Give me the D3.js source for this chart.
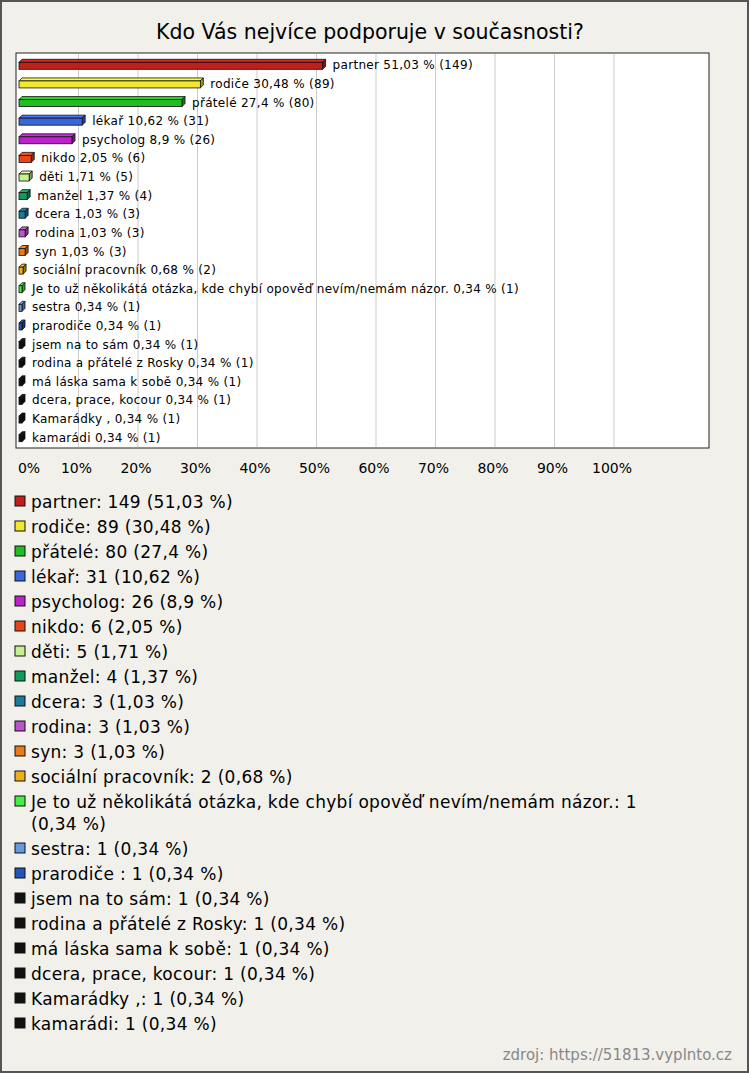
<!DOCTYPE html><html><head><meta charset="utf-8">
<script src="https://cdn.jsdelivr.net/npm/d3@7"></script>
<style>body{margin:0;background:#fff}</style></head><body><svg id="c" width="750" height="1073"></svg>
<script>
const categories=["partner","rodiče","přátelé","lékař","psycholog","nikdo","děti","manžel","dcera","rodina","syn","sociální pracovník","Je to už několikátá otázka, kde chybí opověď nevím/nemám názor.","sestra","prarodiče ","jsem na to sám","rodina a přátelé z Rosky","má láska sama k sobě","dcera, prace, kocour","Kamarádky ,","kamarádi"];
const counts=[149,89,80,31,26,6,5,4,3,3,3,2,1,1,1,1,1,1,1,1,1];
const percents=["51,03","30,48","27,4","10,62","8,9","2,05","1,71","1,37","1,03","1,03","1,03","0,68","0,34","0,34","0,34","0,34","0,34","0,34","0,34","0,34","0,34"];
const colors=["#c0201a","#f2e830","#22bb22","#3a66dd","#bb22cc","#e8441a","#c8f090","#129a5a","#1a7a99","#bb55cc","#e87a1a","#e8b01a","#44ee44","#6699dd","#2255bb","#111","#111","#111","#111","#111","#111"];
const ticks=[0,10,20,30,40,50,60,70,80,90,100];
const total=292;
const F="DejaVu Sans";
const svg=d3.select("#c");
svg.append("rect").attr("x",1).attr("y",1).attr("width",747).attr("height",1071).attr("fill","#f1f0ea").attr("stroke","#555").attr("stroke-width",2);
svg.append("text").attr("x",370).attr("y",39).attr("text-anchor","middle").attr("font-family",F).attr("font-size",20.5).text("Kdo Vás nejvíce podporuje v současnosti?");
const x=d3.scaleLinear().domain([0,100]).range([19,614]);
const y=d3.scaleBand().domain(d3.range(categories.length)).range([55,446]);
svg.append("rect").attr("x",16).attr("y",53).attr("width",693).attr("height",395).attr("fill","#fff").attr("stroke","#222");
svg.selectAll(".g").data(ticks.slice(1)).join("line").attr("x1",d=>x(d)).attr("x2",d=>x(d)).attr("y1",54).attr("y2",447).attr("stroke","#ccc");
svg.selectAll(".t").data(ticks).join("text").attr("x",d=>x(d)+(d==0?10:-2)).attr("y",473).attr("text-anchor","middle").attr("font-family",F).attr("font-size",14).text(d=>d+"%");
const bars=svg.append("g");
categories.forEach((c,i)=>{
  const v=counts[i]/total*100, yc=y(i)+y.bandwidth()/2, x0=x(0), x1=Math.max(x(v),x0+3);
  const col=colors[i], dk=d3.color(col).darker(1.2);
  bars.append("polygon").attr("points",`${x0},${yc-2} ${x0+3},${yc-5} ${x1+3},${yc-5} ${x1},${yc-2}`).attr("fill",d3.color(col).brighter(0.4)).attr("stroke","#111").attr("stroke-width",0.8);
  bars.append("polygon").attr("points",`${x1},${yc-2} ${x1+3},${yc-5} ${x1+3},${yc+2} ${x1},${yc+5}`).attr("fill",dk).attr("stroke","#111").attr("stroke-width",0.8);
  bars.append("rect").attr("x",x0).attr("y",yc-2).attr("width",x1-x0).attr("height",7).attr("fill",col).attr("stroke","#111").attr("stroke-width",0.8);
  bars.append("text").attr("x",x1+10).attr("y",yc+5).attr("font-family",F).attr("font-size",12).attr("letter-spacing",0.3)
   .text(`${c} ${percents[i]} % (${counts[i]})`);
});
const lg=svg.append("g");
let ly=508;
categories.forEach((c,i)=>{
  const lines = i==12 ? [`${c}: ${counts[i]}`,`(${percents[i]} %)`] : [`${c}: ${counts[i]} (${percents[i]} %)`];
  lg.append("rect").attr("x",15).attr("y",ly-12).attr("width",10).attr("height",10).attr("fill",colors[i]).attr("stroke","#111");
  lines.forEach((t,k)=>lg.append("text").attr("x",31).attr("y",ly+k*22).attr("font-family",F).attr("font-size",17).attr("letter-spacing",0.3).text(t));
  ly+=25+(lines.length-1)*22;
});
svg.append("text").attr("x",732).attr("y",1060).attr("text-anchor","end").attr("font-family",F).attr("font-size",15).attr("fill","#888").text("zdroj: https://51813.vyplnto.cz");
</script></body></html>
